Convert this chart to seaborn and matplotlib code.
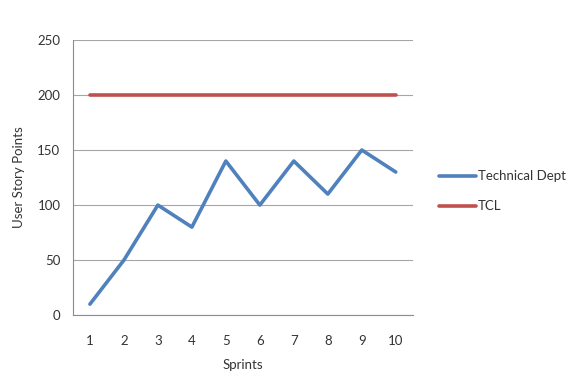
import pandas as pd
import seaborn as sns
import matplotlib.pyplot as plt
from matplotlib.ticker import FixedLocator

# datos
sprints = [1, 2, 3, 4, 5, 6, 7, 8, 9, 10]
technical_dept = [10, 50, 100, 80, 140, 100, 140, 110, 150, 130]
tcl = [200, 200, 200, 200, 200, 200, 200, 200, 200, 200]
y_ticks = [0, 50, 100, 150, 200, 250]

df = pd.DataFrame({
    "Sprints": sprints * 2,
    "Points": technical_dept + tcl,
    "Serie": ["Technical Dept"] * len(sprints) + ["TCL"] * len(sprints),
})

sns.set_style("white")
plt.rcParams['font.family'] = ['Lato', 'DejaVu Sans']

gris = "#8c8c8c"

fig = plt.figure(figsize=(5.88, 3.73), dpi=100)
ax = fig.add_axes([0.124, 0.155, 0.578, 0.738])

sns.lineplot(data=df, x="Sprints", y="Points", hue="Serie",
             palette={"Technical Dept": "#4F81BD", "TCL": "#C0504D"},
             linewidth=2.6, ax=ax, legend=False)

ax.set_xlim(0.5, 10.5)
ax.set_ylim(0, 250)
ax.set_yticks(y_ticks)
ax.set_xticks(sprints)
ax.xaxis.set_minor_locator(FixedLocator([x + 0.5 for x in range(0, 11)]))
ax.tick_params(axis="x", which="major", length=0, labelsize=9.5, pad=14, colors="#333333")
ax.tick_params(axis="x", which="minor", length=5, color=gris, width=0.8)
ax.tick_params(axis="y", length=5, color=gris, width=0.8, labelsize=9.5, pad=4, labelcolor="#333333")
ax.grid(axis="y", color="#a6a6a6", linewidth=0.8)
ax.set_axisbelow(True)

for lado in ["top", "right"]:
    ax.spines[lado].set_visible(False)
for lado in ["left", "bottom"]:
    ax.spines[lado].set_color(gris)
    ax.spines[lado].set_linewidth(0.8)

ax.set_xlabel("Sprints", fontsize=9.5, color="#333333", labelpad=9)
ax.set_ylabel("User Story Points", fontsize=9.5, color="#333333", labelpad=9)

handles = ax.get_lines()[:2]
leg = fig.legend(handles, ["Technical Dept", "TCL"], loc="center left",
                 bbox_to_anchor=(0.727, 0.487), frameon=False, fontsize=9.5,
                 handlelength=2.8, handletextpad=0.1, labelspacing=1.35)
for t in leg.get_texts():
    t.set_color("#333333")

plt.savefig("out.png", dpi=100)
